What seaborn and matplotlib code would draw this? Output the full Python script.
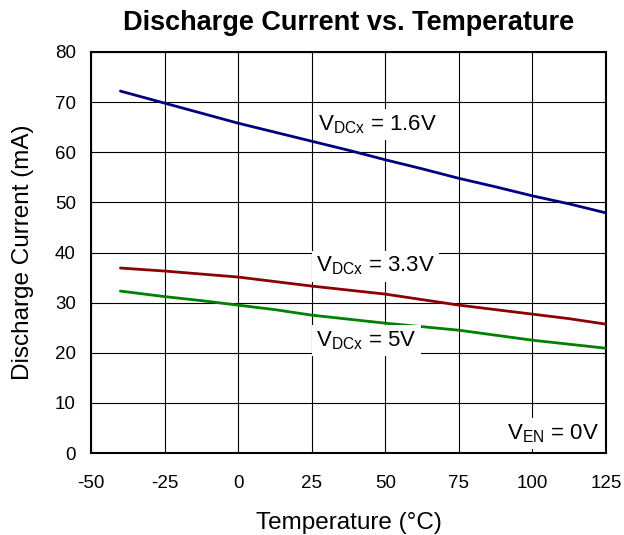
import numpy as np
import pandas as pd
import matplotlib
matplotlib.use('Agg')
import matplotlib.pyplot as plt
import seaborn as sns

# data
temps = [-40, -25, -12.5, 0, 12.5, 25, 37.5, 50, 62.5, 75, 87.5, 100, 112.5, 125]
i_16v = [72.2, 69.8, 67.8, 65.8, 64.0, 62.2, 60.4, 58.5, 56.7, 54.8, 53.1, 51.3, 49.7, 47.9]
i_33v = [36.9, 36.3, 35.7, 35.1, 34.2, 33.3, 32.5, 31.7, 30.6, 29.5, 28.6, 27.7, 26.8, 25.7]
i_5v = [32.3, 31.2, 30.4, 29.5, 28.6, 27.5, 26.7, 25.9, 25.2, 24.5, 23.5, 22.5, 21.7, 20.9]
series = ['1.6V', '3.3V', '5V']
colors = ['#000080', '#8b0000', '#008000']

df = pd.DataFrame({'Temp': temps * 3,
                   'Current': i_16v + i_33v + i_5v,
                   'V': sum([[s] * len(temps) for s in series], [])})

sns.set_style('white')
plt.rcParams['font.family'] = ['Liberation Sans', 'DejaVu Sans']
plt.rcParams['mathtext.fontset'] = 'custom'
plt.rcParams['mathtext.rm'] = 'Liberation Sans'
plt.rcParams['axes.unicode_minus'] = False
plt.rcParams['text.color'] = 'black'
plt.rcParams['axes.labelcolor'] = 'black'

fig = plt.figure(figsize=(6.24, 5.35), dpi=100)
ax = fig.add_axes([91 / 624, 1 - 453 / 535, 515 / 624, 401 / 535])

sns.lineplot(data=df, x='Temp', y='Current', hue='V', palette=colors,
             linewidth=2, legend=False, ax=ax, zorder=3)

ax.set_xlim(-50, 125)
ax.set_ylim(0, 80)
ax.set_xticks(np.arange(-50, 126, 25))
ax.set_yticks(np.arange(0, 81, 10))
ax.grid(True, color='black', linewidth=0.8)
for sp in ax.spines.values():
    sp.set_color('black')
    sp.set_linewidth(1.5)
ax.tick_params(labelsize=13.5, length=0, colors='black')
ax.tick_params(axis='x', pad=16)
ax.tick_params(axis='y', pad=11)

ax.set_title('Discharge Current vs. Temperature', fontsize=19.5, fontweight='bold', pad=16)
ax.set_xlabel('Temperature (°C)', fontsize=17.5, labelpad=14)
ax.set_ylabel('Discharge Current (mA)', fontsize=17.5, labelpad=15)

box = dict(facecolor='white', edgecolor='none', pad=3)
ax.text(27, 65.5, r'V$_{\mathregular{DCx}}$ = 1.6V', fontsize=16, va='center', bbox=box, zorder=4)
ax.text(26.5, 37.3, r'V$_{\mathregular{DCx}}$ = 3.3V', fontsize=16, va='center', bbox=box, zorder=4)
ax.text(26.5, 22.5, r'V$_{\mathregular{DCx}}$ = 5V', fontsize=16, va='center', bbox=box, zorder=4)
ax.text(122.5, 3.9, r'V$_{\mathregular{EN}}$ = 0V', fontsize=16, va='center', ha='right', bbox=box, zorder=4)

fig.savefig('out.png', dpi=100)
